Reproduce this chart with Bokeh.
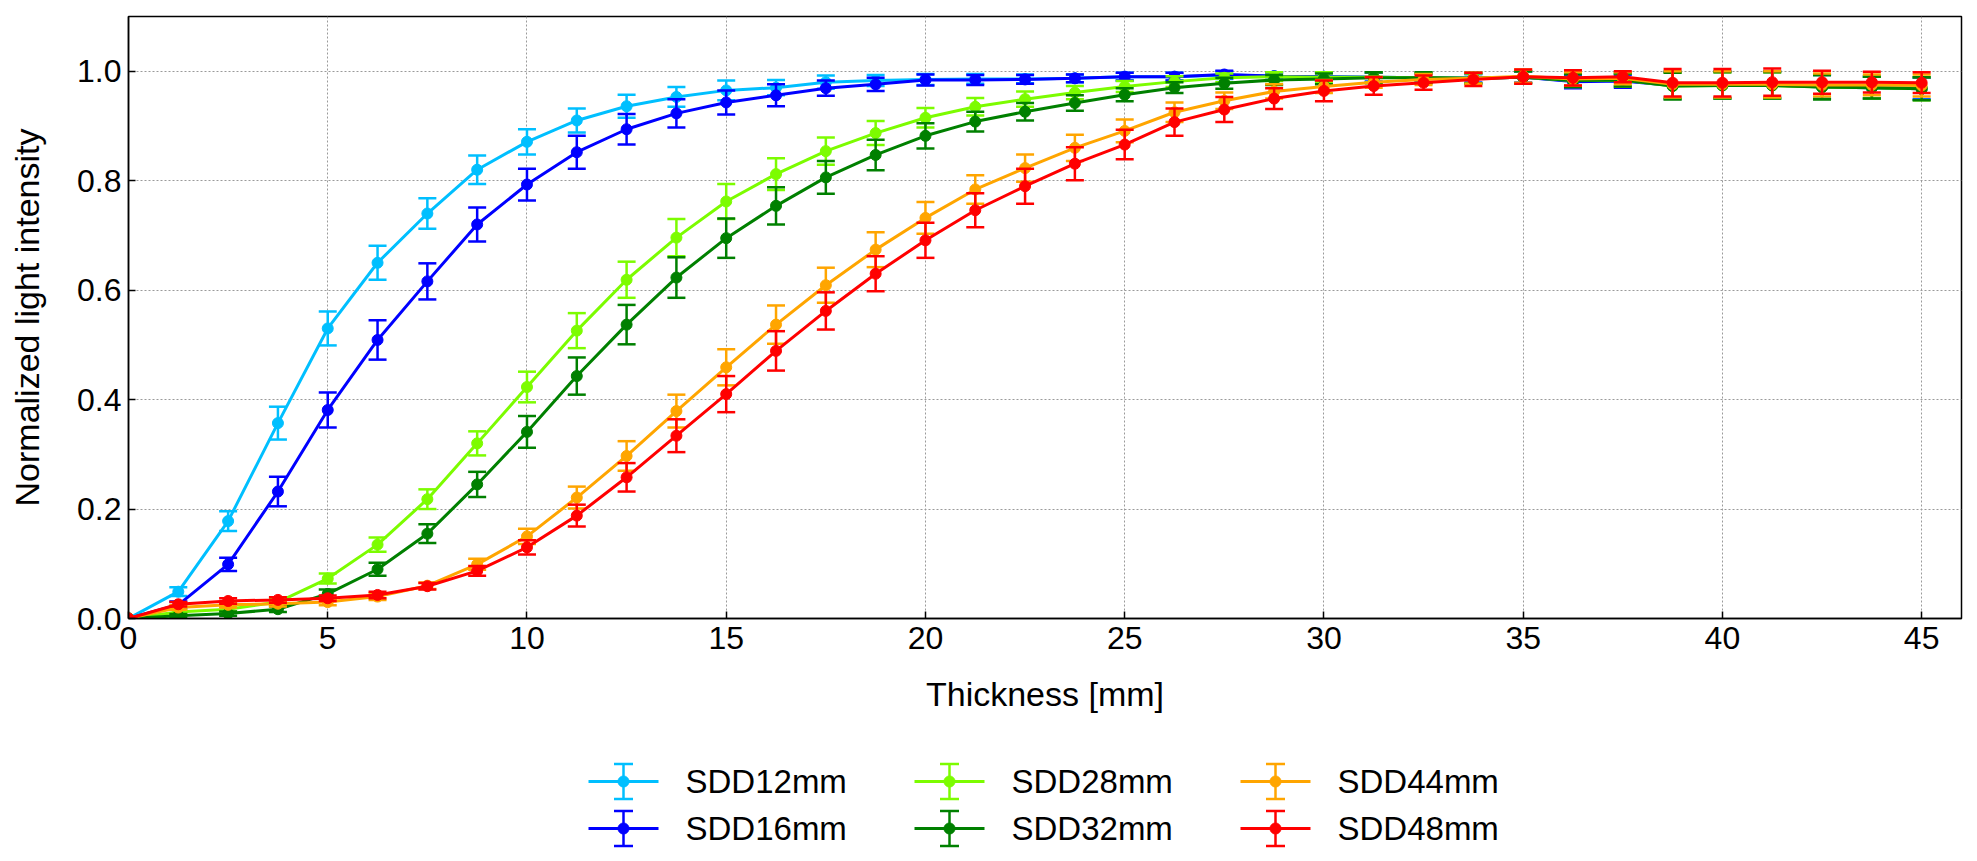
from bokeh.plotting import figure
from bokeh.layouts import column
from bokeh.models import (ColumnDataSource, Range1d, FixedTicker, PrintfTickFormatter)
from bokeh.core.properties import value
from bokeh.embed import file_html
from bokeh.resources import INLINE

# ---------------- data ----------------
thickness = [0, 1.25, 2.5, 3.75, 5, 6.25, 7.5, 8.75, 10, 11.25, 12.5, 13.75,
             15, 16.25, 17.5, 18.75, 20, 21.25, 22.5, 23.75, 25, 26.25, 27.5,
             28.75, 30, 31.25, 32.5, 33.75, 35, 36.25, 37.5, 38.75, 40, 41.25,
             42.5, 43.75, 45]

sdd12 = [0, 0.049, 0.178, 0.357, 0.530, 0.650, 0.740, 0.820, 0.871, 0.910, 0.936,
         0.953, 0.965, 0.970, 0.980, 0.983, 0.985, 0.986, 0.986, 0.987, 0.990,
         0.990, 0.993, 0.991, 0.990, 0.989, 0.988, 0.987, 0.989, 0.982, 0.983,
         0.975, 0.975, 0.975, 0.972, 0.970, 0.969]
sdd12_err = [0, 0.008, 0.018, 0.030, 0.031, 0.031, 0.028, 0.026, 0.023, 0.022, 0.021,
             0.018, 0.018, 0.014, 0.012, 0.010, 0.010, 0.009, 0.008, 0.007, 0.007,
             0.007, 0.007, 0.007, 0.008, 0.008, 0.008, 0.008, 0.010, 0.010, 0.010,
             0.024, 0.024, 0.024, 0.021, 0.020, 0.020]

sdd16 = [0, 0.025, 0.099, 0.232, 0.381, 0.509, 0.616, 0.720, 0.793, 0.852, 0.894,
         0.923, 0.943, 0.956, 0.969, 0.976, 0.984, 0.984, 0.985, 0.987, 0.990,
         0.990, 0.994, 0.991, 0.990, 0.989, 0.988, 0.987, 0.989, 0.981, 0.982,
         0.974, 0.975, 0.975, 0.971, 0.970, 0.968]
sdd16_err = [0, 0.006, 0.012, 0.027, 0.032, 0.036, 0.033, 0.031, 0.029, 0.030, 0.028,
             0.026, 0.022, 0.020, 0.014, 0.012, 0.010, 0.009, 0.008, 0.007, 0.007,
             0.007, 0.007, 0.007, 0.008, 0.008, 0.008, 0.008, 0.010, 0.012, 0.012,
             0.025, 0.025, 0.025, 0.022, 0.020, 0.020]

sdd28 = [0, 0.012, 0.017, 0.030, 0.073, 0.135, 0.218, 0.320, 0.423, 0.526, 0.619,
         0.696, 0.762, 0.812, 0.854, 0.887, 0.915, 0.935, 0.949, 0.961, 0.972,
         0.981, 0.988, 0.990, 0.989, 0.989, 0.988, 0.987, 0.989, 0.983, 0.984,
         0.973, 0.974, 0.974, 0.971, 0.970, 0.968]
sdd28_err = [0, 0.004, 0.004, 0.006, 0.009, 0.013, 0.018, 0.022, 0.028, 0.032, 0.033,
             0.034, 0.032, 0.029, 0.025, 0.022, 0.018, 0.016, 0.014, 0.012, 0.010,
             0.010, 0.008, 0.008, 0.009, 0.009, 0.009, 0.009, 0.011, 0.012, 0.012,
             0.024, 0.024, 0.024, 0.022, 0.020, 0.021]

sdd32 = [0, 0.005, 0.009, 0.017, 0.045, 0.090, 0.155, 0.245, 0.341, 0.443, 0.537,
         0.623, 0.695, 0.754, 0.806, 0.847, 0.882, 0.908, 0.926, 0.942, 0.957,
         0.970, 0.978, 0.984, 0.986, 0.988, 0.988, 0.987, 0.989, 0.983, 0.984,
         0.973, 0.974, 0.974, 0.971, 0.970, 0.968]
sdd32_err = [0, 0.003, 0.004, 0.005, 0.008, 0.012, 0.017, 0.023, 0.029, 0.034, 0.036,
             0.037, 0.036, 0.034, 0.030, 0.028, 0.023, 0.018, 0.016, 0.014, 0.012,
             0.010, 0.010, 0.009, 0.010, 0.010, 0.010, 0.010, 0.011, 0.012, 0.012,
             0.024, 0.024, 0.024, 0.022, 0.020, 0.021]

sdd44 = [0, 0.020, 0.025, 0.027, 0.030, 0.040, 0.060, 0.099, 0.150, 0.221, 0.297,
         0.379, 0.459, 0.537, 0.609, 0.674, 0.732, 0.784, 0.823, 0.860, 0.891,
         0.925, 0.946, 0.963, 0.972, 0.980, 0.985, 0.987, 0.991, 0.986, 0.987,
         0.976, 0.976, 0.976, 0.975, 0.975, 0.974]
sdd44_err = [0, 0.004, 0.005, 0.005, 0.006, 0.006, 0.006, 0.010, 0.014, 0.020, 0.027,
             0.030, 0.033, 0.035, 0.032, 0.032, 0.029, 0.026, 0.025, 0.024, 0.021,
             0.018, 0.015, 0.013, 0.012, 0.010, 0.010, 0.010, 0.012, 0.012, 0.011,
             0.024, 0.024, 0.024, 0.021, 0.019, 0.020]

sdd48 = [0, 0.026, 0.032, 0.034, 0.037, 0.043, 0.059, 0.087, 0.130, 0.188, 0.258,
         0.334, 0.410, 0.489, 0.562, 0.630, 0.691, 0.746, 0.790, 0.831, 0.866,
         0.907, 0.930, 0.950, 0.964, 0.973, 0.979, 0.985, 0.990, 0.988, 0.990,
         0.979, 0.979, 0.980, 0.980, 0.980, 0.979]
sdd48_err = [0, 0.004, 0.005, 0.005, 0.005, 0.006, 0.006, 0.009, 0.013, 0.020, 0.026,
             0.030, 0.033, 0.036, 0.034, 0.032, 0.032, 0.031, 0.032, 0.030, 0.027,
             0.025, 0.023, 0.019, 0.019, 0.016, 0.013, 0.012, 0.013, 0.014, 0.010,
             0.025, 0.025, 0.025, 0.021, 0.019, 0.019]

series_labels = ["SDD12mm", "SDD16mm", "SDD28mm", "SDD32mm", "SDD44mm", "SDD48mm"]
series_colors = ["#00BFFF", "#0000FF", "#7CFC00", "#008000", "#FFA500", "#FF0000"]
series_values = [sdd12, sdd16, sdd28, sdd32, sdd44, sdd48]
series_errors = [sdd12_err, sdd16_err, sdd28_err, sdd32_err, sdd44_err, sdd48_err]

x_ticks = [0, 5, 10, 15, 20, 25, 30, 35, 40, 45]
y_ticks = [0.0, 0.2, 0.4, 0.6, 0.8, 1.0]
x_label = "Thickness [mm]"
y_label = "Normalized light intensity"

# ---------------- main figure ----------------
FONT = "Liberation Sans"
W = 1977
MAIN_H = 740
LEG_H = 861 - MAIN_H
BORDER_L, BORDER_R = 128, 16

p = figure(width=W, height=MAIN_H, output_backend="svg", toolbar_location=None,
           x_range=Range1d(0, 46), y_range=Range1d(0, 1.1),
           x_axis_label=x_label, y_axis_label=y_label,
           min_border_left=BORDER_L, min_border_right=BORDER_R, min_border_top=16,
           min_border_bottom=122)
p.background_fill_color = "white"
p.border_fill_color = "white"
p.outline_line_color = "black"
p.outline_line_width = 1.5
p.outline_line_alpha = 1.0

for ax in (p.xaxis[0], p.yaxis[0]):
    ax.axis_line_color = "black"
    ax.axis_line_width = 1.5
    ax.major_tick_in = 7
    ax.major_tick_out = 0
    ax.major_tick_line_width = 1.5
    ax.major_tick_line_color = "black"
    ax.minor_tick_line_color = None
    ax.major_label_text_font = FONT
    ax.major_label_text_font_size = "32px"
    ax.major_label_text_color = "black"
    ax.axis_label_text_font = FONT
    ax.axis_label_text_font_size = "34px"
    ax.axis_label_text_font_style = "normal"
    ax.axis_label_text_color = "black"

p.xaxis.ticker = FixedTicker(ticks=x_ticks)
p.yaxis.ticker = FixedTicker(ticks=y_ticks)
p.yaxis.formatter = PrintfTickFormatter(format="%.1f")
p.xaxis.major_label_standoff = 8
p.xaxis.axis_label_standoff = 23
p.yaxis.major_label_standoff = 7
p.yaxis.axis_label_standoff = 28

p.grid.grid_line_color = "#9a9a9a"
p.grid.grid_line_dash = "2 2"
p.grid.grid_line_width = 1

for label, color, ys, es in zip(series_labels, series_colors, series_values, series_errors):
    src = ColumnDataSource(dict(
        x=thickness, y=ys,
        upper=[v + e for v, e in zip(ys, es)],
        lower=[v - e for v, e in zip(ys, es)],
    ))
    p.segment(x0="x", y0="lower", x1="x", y1="upper", source=src,
              line_color=color, line_width=2.5)
    p.scatter(x="x", y="upper", marker="dash", size=18, source=src,
              line_color=color, line_width=2.5)
    p.scatter(x="x", y="lower", marker="dash", size=18, source=src,
              line_color=color, line_width=2.5)
    p.line(x="x", y="y", source=src, line_color=color, line_width=3)
    p.scatter(x="x", y="y", marker="circle", size=11, source=src,
              fill_color=color, line_color=color)

# ---------------- legend strip (3 columns x 2 rows) ----------------
# the strip's frame spans the same pixels as the main frame; its x scale is in page pixels
q = figure(width=W, height=LEG_H, output_backend="svg", toolbar_location=None,
           x_range=Range1d(BORDER_L, W - BORDER_R), y_range=Range1d(LEG_H, 0),
           x_axis_location=None, y_axis_location=None,
           min_border_left=BORDER_L, min_border_right=BORDER_R, min_border_top=0,
           min_border_bottom=0)
q.grid.visible = False
q.outline_line_color = None
q.background_fill_color = "white"
q.border_fill_color = "white"

col_left, col_pitch = 588, 326
row_top, row_pitch = 41, 47
glyph_w, text_gap, bar_half = 70, 27, 17.5

gx0, gx1, gxc, gy, tx = [], [], [], [], []
for i in range(len(series_labels)):
    c, r = i // 2, i % 2
    x0 = col_left + c * col_pitch
    gx0.append(x0)
    gx1.append(x0 + glyph_w)
    gxc.append(x0 + glyph_w / 2)
    gy.append(row_top + r * row_pitch)
    tx.append(x0 + glyph_w + text_gap)

lsrc = ColumnDataSource(dict(
    x0=gx0, x1=gx1, xc=gxc, y=gy, tx=tx,
    top=[v - bar_half for v in gy], bot=[v + bar_half for v in gy],
    color=series_colors, label=series_labels,
))
q.segment(x0="x0", y0="y", x1="x1", y1="y", source=lsrc, line_color="color", line_width=3)
q.segment(x0="xc", y0="top", x1="xc", y1="bot", source=lsrc, line_color="color", line_width=2.5)
q.scatter(x="xc", y="top", marker="dash", size=19, source=lsrc, line_color="color", line_width=2.5)
q.scatter(x="xc", y="bot", marker="dash", size=19, source=lsrc, line_color="color", line_width=2.5)
q.scatter(x="xc", y="y", marker="circle", size=11, source=lsrc,
          fill_color="color", line_color="color")
q.text(x="tx", y="y", text="label", source=lsrc, text_font=value(FONT),
       text_font_size="33px", text_baseline="middle", text_align="left",
       text_color="black")

layout = column(p, q, spacing=0)
open("out.html", "w").write(file_html(layout, INLINE))
